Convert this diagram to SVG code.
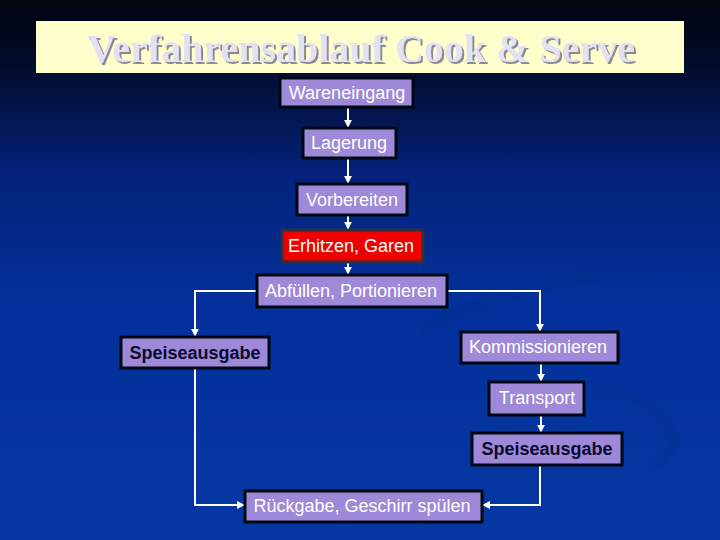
<svg xmlns="http://www.w3.org/2000/svg" width="720" height="540" viewBox="0 0 720 540">
<defs>
<linearGradient id="bg" x1="0" y1="0" x2="0" y2="1">
<stop offset="0" stop-color="#000510"/>
<stop offset="0.12" stop-color="#020c2a"/>
<stop offset="0.32" stop-color="#04217a"/>
<stop offset="0.55" stop-color="#03309a"/>
<stop offset="1" stop-color="#0537a2"/>
</linearGradient>
<filter id="sh" x="-5%" y="-20%" width="110%" height="140%">
<feDropShadow dx="2" dy="2" stdDeviation="0.6" flood-color="#8a8a90" flood-opacity="1"/>
</filter>
<marker id="ah" viewBox="0 0 10 10" refX="9" refY="5" markerWidth="4" markerHeight="4" orient="auto" markerUnits="strokeWidth">
<path d="M0,0 L10,5 L0,10 z" fill="#ffffff"/>
</marker>
<style>
.n rect{fill:#9e88d8;stroke:#000814;stroke-width:3}
.n text{font-family:"Liberation Sans",Arial,sans-serif;font-size:18px;fill:#ffffff;text-anchor:middle}
.n text.b{font-weight:bold;fill:#0a0a30}
.c path{fill:none;stroke:#ffffff;stroke-width:2;marker-end:url(#ah)}
</style>
</defs>
<rect width="720" height="540" fill="url(#bg)"/>
<path d="M420,330 C520,280 640,260 720,270" fill="none" stroke="#02307f" stroke-width="14" opacity="0.15"/>
<path d="M600,385 C660,400 700,440 650,470" fill="none" stroke="#02307f" stroke-width="10" opacity="0.15"/>
<g id="title">
<rect x="36" y="21" width="648" height="52" fill="#ffffcc"/>
<text x="361" y="62" font-family="'Liberation Serif','Times New Roman',serif" font-size="40" font-weight="bold" text-anchor="middle" fill="#e2e2f4" filter="url(#sh)">Verfahrensablauf Cook &amp; Serve</text>
</g>
<g class="c" id="connectors">
<path d="M348,108 V127"/>
<path d="M348,158 V183"/>
<path d="M348,215 V229"/>
<path d="M348,262 V274"/>
<path d="M257,291 H195 V336"/>
<path d="M447,291 H540 V331"/>
<path d="M541,363 V381"/>
<path d="M541,415 V432"/>
<path d="M195,368 V505 H244"/>
<path d="M540,465 V505 H483"/>
</g>
<g class="n" id="wareneingang"><rect x="280" y="78" width="133" height="29"/><text x="347" y="99">Wareneingang</text></g>
<g class="n" id="lagerung"><rect x="303" y="128" width="93" height="30"/><text x="349" y="149">Lagerung</text></g>
<g class="n" id="vorbereiten"><rect x="297" y="184" width="110" height="31"/><text x="352" y="206">Vorbereiten</text></g>
<g class="n" id="erhitzen"><rect x="282" y="230" width="141" height="32" style="fill:#ee0000;stroke:#303040"/><text x="351" y="252">Erhitzen, Garen</text></g>
<g class="n" id="abfuellen"><rect x="257" y="275" width="190" height="32"/><text x="351" y="297">Abfüllen, Portionieren</text></g>
<g class="n" id="speiseausgabe1"><rect x="121" y="337" width="148" height="31"/><text class="b" x="195" y="359">Speiseausgabe</text></g>
<g class="n" id="kommissionieren"><rect x="461" y="332" width="157" height="31"/><text x="538" y="353">Kommissionieren</text></g>
<g class="n" id="transport"><rect x="489" y="382" width="95" height="33"/><text x="537" y="404">Transport</text></g>
<g class="n" id="speiseausgabe2"><rect x="472" y="433" width="150" height="32"/><text class="b" x="547" y="455">Speiseausgabe</text></g>
<g class="n" id="rueckgabe"><rect x="245" y="491" width="237" height="31"/><text x="362" y="512">Rückgabe, Geschirr spülen</text></g>
</svg>
